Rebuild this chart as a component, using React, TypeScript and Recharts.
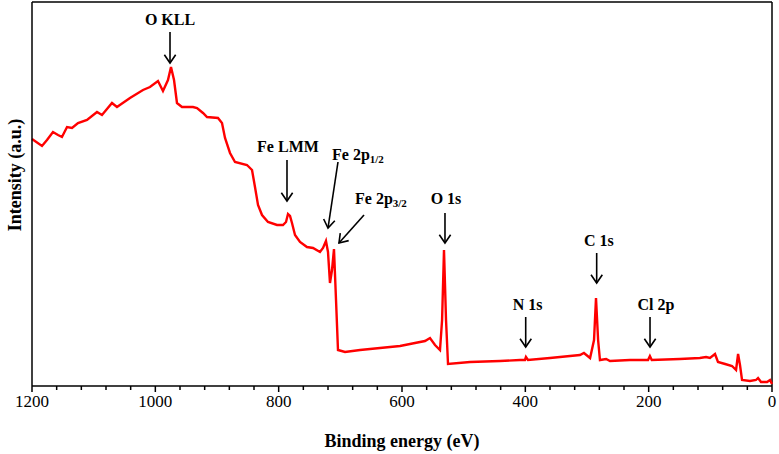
import { LineChart, Line, XAxis, YAxis, ReferenceLine, ReferenceDot } from 'recharts';

// binding energy (eV) and intensity (a.u.)
const energies = [
    1200, 1183.8, 1175.7, 1166, 1157.8, 1151.4, 1143.2, 1135.1, 1125.4, 1110.8, 1094.6, 1086.5, 1070.3,
    1062.2, 1041.1, 1020, 1008.7, 995.7, 987.6, 979.5, 974.6, 969.7, 964.9, 956.8, 938.9, 932.4, 922.7,
    916.2, 898.4, 891.9, 887, 878.9, 870.8, 851.4, 843.2, 838.4, 833.5, 827, 817.3, 802.7, 793, 788.1,
    784.9, 781.6, 778.4, 773.5, 765.4, 754.1, 744.3, 733, 728.1, 723.3, 720, 716.8, 713.5, 710.3, 707,
    703.8, 692.4, 668, 635.7, 603.2, 579, 562.7, 554.6, 546.5, 538.4, 535, 531.9, 528.6, 525.4, 489.7,
    441, 408.7, 400.6, 399, 395.7, 360, 327.6, 311.4, 305, 295, 288.6, 285.4, 282, 279, 269, 262.7, 230.3,
    201, 198, 195, 149.5, 117, 107, 100.6, 92.4, 87.6, 76, 64.8, 58.3, 55, 51.9, 48.6, 35.7, 26, 22.6,
    17.8, 8, 3.2, 0,
];
const intensities = [
    247, 240, 246, 254, 251, 249, 259, 258, 263, 266, 274, 271, 283,
    279, 288, 296, 299, 305, 295, 306, 319, 306, 283, 279, 279, 278, 273,
    269, 268, 263, 248, 233, 224, 221, 216, 199, 181, 171, 164, 161, 161, 164,
    172, 170, 163, 151, 144, 139, 138, 134, 138, 145, 134, 103, 116, 137, 86,
    36, 34, 36, 38, 40, 43, 45, 48, 41, 36, 66, 136, 66, 22, 24,
    25, 26, 26, 29, 26, 28, 30, 31, 33, 28, 46, 88, 46, 26, 27, 25, 26,
    26, 30, 26, 27, 28, 29, 28, 32, 24, 22, 20, 16, 32, 21, 6, 5, 6, 8,
    4, 4, 6, 2,
];

const xTicks = [
    0, 40, 80, 120, 160, 200, 240, 280, 320, 360, 400, 440, 480, 520, 560, 600,
    640, 680, 720, 760, 800, 840, 880, 920, 960, 1000, 1040, 1080, 1120, 1160, 1200,
];
const labelledTicks = [0, 200, 400, 600, 800, 1000, 1200];

// peak labels: text anchor point and arrow from/to, in data units
const peaks = [
    { name: 'O KLL', sub: '', at: [976.2, 361], anchor: 'middle', from: [976.2, 354], to: [976.2, 323] },
    { name: 'Fe LMM', sub: '', at: [784.9, 234], anchor: 'middle', from: [786.5, 226], to: [786.5, 185] },
    { name: 'Fe 2p', sub: '1/2', at: [713.5, 226], anchor: 'start', from: [703.8, 224], to: [720, 158] },
    { name: 'Fe 2p', sub: '3/2', at: [676.2, 182], anchor: 'start', from: [661.6, 171], to: [702.2, 143] },
    { name: 'O 1s', sub: '', at: [528.7, 182], anchor: 'middle', from: [530.3, 173], to: [530.3, 143] },
    { name: 'N 1s', sub: '', at: [396.2, 76], anchor: 'middle', from: [399.4, 69], to: [399.4, 39] },
    { name: 'C 1s', sub: '', at: [280.6, 140], anchor: 'middle', from: [284.3, 133], to: [284.3, 103] },
    { name: 'Cl 2p', sub: '', at: [188.1, 76], anchor: 'middle', from: [197.8, 69], to: [197.8, 39] },
];

const data = energies.map((e, i) => ({ e, v: intensities[i] }));

const FONT = 'Liberation Serif, Times New Roman, serif';

const Arrow = (props: any) => {
    const { x1, y1, x2, y2 } = props;
    const ang = Math.atan2(y2 - y1, x2 - x1);
    const len = 10;
    const spread = 0.6;
    const ax = x2 - len * Math.cos(ang - spread);
    const ay = y2 - len * Math.sin(ang - spread);
    const bx = x2 - len * Math.cos(ang + spread);
    const by = y2 - len * Math.sin(ang + spread);
    return (
        <g stroke="#000" strokeWidth={1.6} fill="none">
            <line x1={x1} y1={y1} x2={x2} y2={y2} />
            <polyline points={`${ax},${ay} ${x2},${y2} ${bx},${by}`} />
        </g>
    );
};

const PeakText = (name: string, sub: string, anchor: string) => (props: any) => (
    <text
        x={props.cx}
        y={props.cy}
        textAnchor={anchor}
        fontFamily={FONT}
        fontWeight="bold"
        fontSize={16}
        fill="#000"
    >
        {name}
        {sub && (
            <tspan fontSize={11} dy={3}>
                {sub}
            </tspan>
        )}
    </text>
);

const XTick = (props: any) => {
    const { x, y, payload } = props;
    const major = labelledTicks.includes(payload.value);
    return (
        <g>
            <line x1={x} y1={y} x2={x} y2={y + (major ? 6 : 4)} stroke="#000" strokeWidth={1.5} />
            {major && (
                <text x={x} y={y + 21} textAnchor="middle" fontFamily={FONT} fontSize={17} fill="#000">
                    {payload.value}
                </text>
            )}
        </g>
    );
};

export default function App() {
    return (
        <div style={{ position: 'absolute', left: 0, top: 0 }}>
            <LineChart width={779} height={454} data={data} margin={{ top: 2, right: 7, bottom: 0, left: 0 }}>
                <XAxis
                    dataKey="e"
                    type="number"
                    domain={[0, 1200]}
                    reversed
                    ticks={xTicks}
                    interval={0}
                    tickLine={false}
                    tickSize={0}
                    tickMargin={0}
                    tick={<XTick />}
                    height={68}
                    axisLine={{ stroke: '#000', strokeWidth: 1.5 }}
                    label={{
                        content: () => (
                            <text x={402} y={447} textAnchor="middle" fontFamily={FONT} fontWeight="bold" fontSize={18} fill="#000">
                                Binding energy (eV)
                            </text>
                        ),
                    }}
                />
                <YAxis
                    type="number"
                    domain={[0, 384]}
                    width={32}
                    tick={false}
                    tickLine={false}
                    axisLine={{ stroke: '#000', strokeWidth: 1.5 }}
                    label={{
                        content: () => (
                            <text
                                transform="translate(21,175) rotate(-90)"
                                textAnchor="middle"
                                fontFamily={FONT}
                                fontWeight="bold"
                                fontSize={18}
                                fill="#000"
                            >
                                Intensity (a.u.)
                            </text>
                        ),
                    }}
                />
                <ReferenceLine y={384} stroke="#000" strokeWidth={1.5} />
                <ReferenceLine x={0} stroke="#000" strokeWidth={1.5} />
                <Line
                    type="linear"
                    dataKey="v"
                    stroke="#ff0000"
                    strokeWidth={2.4}
                    dot={false}
                    isAnimationActive={false}
                />
                {peaks.map((p, i) => (
                    <ReferenceLine
                        key={`a${i}`}
                        segment={[
                            { x: p.from[0], y: p.from[1] },
                            { x: p.to[0], y: p.to[1] },
                        ]}
                        shape={Arrow}
                    />
                ))}
                {peaks.map((p, i) => (
                    <ReferenceDot
                        key={`t${i}`}
                        x={p.at[0]}
                        y={p.at[1]}
                        r={0}
                        shape={PeakText(p.name, p.sub, p.anchor)}
                    />
                ))}
            </LineChart>
        </div>
    );
}
